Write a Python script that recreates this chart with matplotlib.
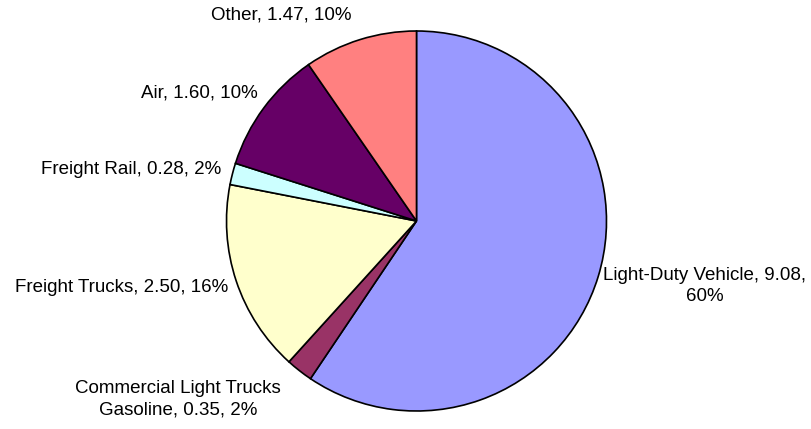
import numpy as np
import matplotlib.pyplot as plt

plt.rcParams['font.family'] = ['Liberation Sans', 'DejaVu Sans']

# data (clockwise from 12 o'clock)
categories = ['Light-Duty Vehicle', 'Commercial Light Trucks\nGasoline', 'Freight Trucks',
              'Freight Rail', 'Air', 'Other']
values = [9.08, 0.35, 2.50, 0.28, 1.60, 1.47]
pct_labels = ['60%', '2%', '16%', '2%', '10%', '10%']
colors = ['#9999FF', '#993366', '#FFFFCC', '#CCFFFF', '#660066', '#FF8080']

# label layout in pixel coords (x, y from top), alignment
label_pos = [(705, 286, 'center'), (178, 399, 'center'), (228, 288, 'right'),
             (221, 169, 'right'), (258, 93, 'right'), (281, 15, 'center')]
label_text = ['Light-Duty Vehicle, 9.08,\n60%', 'Commercial Light Trucks\nGasoline, 0.35, 2%',
              None, None, None, None]

W, H = 812, 429
cx, cy, r = 416.5, 221, 190

fig = plt.figure(figsize=(W / 100, H / 100), dpi=100)
ax = fig.add_axes([0, 0, 1, 1])
ax.pie(values, colors=colors, startangle=90, counterclock=False,
       center=(cx, H - cy), radius=r,
       wedgeprops=dict(edgecolor='black', linewidth=1.2))
ax.set_xlim(0, W)
ax.set_ylim(0, H)
ax.set_aspect('equal')
ax.axis('off')

for i, (cat, v, p) in enumerate(zip(categories, values, pct_labels)):
    txt = label_text[i] if label_text[i] else f'{cat}, {v:.2f}, {p}'
    x, y, ha = label_pos[i]
    ax.text(x, H - y, txt, ha=ha, va='center', fontsize=13.5, color='black',
            multialignment='center', linespacing=1.35)

plt.savefig('out.png', dpi=100)
